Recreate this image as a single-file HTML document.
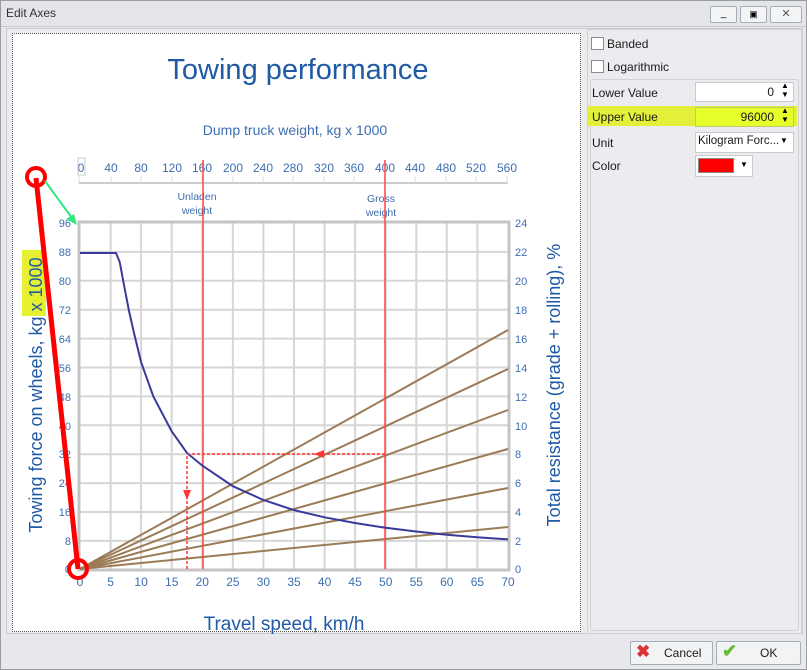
<!DOCTYPE html>
<html><head><style>
body{margin:0;width:807px;height:670px;background:#e6e8ec;font-family:"Liberation Sans",sans-serif;position:relative;overflow:hidden}
.a{position:absolute}
.t{font-size:12px;color:#1a1a1a}
</style></head><body>
<div class="a" style="left:0;top:0;width:807px;height:26px;background:#e3e5ea;border-bottom:1px solid #c8cad0"></div>
<div class="a t" style="left:6px;top:6px;font-size:12px;color:#333">Edit Axes</div>
<div class="a" style="left:710px;top:6px;width:25px;height:15px;border:1px solid #a9acb3;border-radius:2px;background:#f3f4f6;font-size:10px;text-align:center;line-height:13px">_</div>
<div class="a" style="left:740px;top:6px;width:25px;height:15px;border:1px solid #a9acb3;border-radius:2px;background:#f3f4f6;font-size:9px;text-align:center;line-height:15px">▣</div>
<div class="a" style="left:770px;top:6px;width:30px;height:15px;border:1px solid #a9acb3;border-radius:2px;background:#f3f4f6;font-size:11px;text-align:center;line-height:15px;color:#555">✕</div>
<div class="a" style="left:0;top:0;width:805px;height:668px;border:1px solid #9a9ca2"></div>
<div class="a" style="left:6px;top:28px;width:795px;height:604px;border:1px solid #c9cbd0;background:#ececef"></div>
<div class="a" style="left:12px;top:33px;width:567px;height:597px;background:#fff;border:1px dotted #555"></div>
<div class="a" style="left:587px;top:29px;width:213px;height:603px;border:1px solid #cfd1d6;background:#ebecef"></div>
<div class="a" style="left:591px;top:37px;width:11px;height:11px;border:1px solid #8a8c90;background:#fff"></div>
<div class="a t" style="left:607px;top:37px">Banded</div>
<div class="a" style="left:591px;top:60px;width:11px;height:11px;border:1px solid #8a8c90;background:#fff"></div>
<div class="a t" style="left:607px;top:60px">Logarithmic</div>
<div class="a" style="left:590px;top:79px;width:207px;height:550px;border:1px solid #d0d2d6;border-radius:3px"></div>
<div class="a" style="left:587px;top:106px;width:210px;height:20px;background:#e4ef3a"></div>
<div class="a t" style="left:592px;top:86px">Lower Value</div>
<div class="a" style="left:695px;top:82px;width:97px;height:18px;border:1px solid #c8cacd;background:#fff"></div>
<div class="a t" style="left:734px;top:85px;width:40px;text-align:right">0</div>
<div class="a" style="left:781px;top:81px;font-size:8px;line-height:9px">▲<br>▼</div>
<div class="a t" style="left:592px;top:110px">Upper Value</div>
<div class="a" style="left:695px;top:107px;width:97px;height:18px;border:1px solid #c0c870;background:#e6ff2a"></div>
<div class="a t" style="left:714px;top:110px;width:60px;text-align:right">96000</div>
<div class="a" style="left:781px;top:106px;font-size:8px;line-height:9px">▲<br>▼</div>
<div class="a t" style="left:592px;top:136px">Unit</div>
<div class="a" style="left:695px;top:132px;width:97px;height:19px;border:1px solid #c8cacd;background:#fff"></div>
<div class="a t" style="left:698px;top:135px;font-size:11.5px">Kilogram Forc...</div>
<div class="a" style="left:780px;top:136px;font-size:8px">▼</div>
<div class="a t" style="left:592px;top:159px">Color</div>
<div class="a" style="left:695px;top:155px;width:56px;height:20px;border:1px solid #c8cacd;background:#fff"></div>
<div class="a" style="left:698px;top:158px;width:34px;height:13px;border:1px solid #888;background:#f00"></div>
<div class="a" style="left:740px;top:160px;font-size:8px">▼</div>
<div class="a" style="left:630px;top:641px;width:81px;height:22px;border:1px solid #a9acb3;border-radius:2px;background:#f2f3f5"></div>
<div class="a" style="left:636px;top:642px;color:#d33;font-size:17px;font-weight:bold">✖</div>
<div class="a t" style="left:664px;top:646px">Cancel</div>
<div class="a" style="left:716px;top:641px;width:83px;height:22px;border:1px solid #a9acb3;border-radius:2px;background:#f2f3f5"></div>
<div class="a" style="left:722px;top:641px;color:#6b3;font-size:18px;font-weight:bold">✔</div>
<div class="a t" style="left:760px;top:646px">OK</div>
<svg class="a" style="left:0;top:0" width="807" height="670" font-family="Liberation Sans, sans-serif">
<text x="298" y="79" text-anchor="middle" font-size="29" fill="#1e5aa5">Towing performance</text>
<text x="295" y="135" text-anchor="middle" font-size="14" fill="#3d6eb0">Dump truck weight, kg x 1000</text>
<g font-size="12" fill="#3d6eb0" text-anchor="middle">
<text x="81" y="172">0</text><text x="111" y="172">40</text><text x="141" y="172">80</text><text x="172" y="172">120</text><text x="202" y="172">160</text><text x="233" y="172">200</text><text x="263" y="172">240</text><text x="293" y="172">280</text><text x="324" y="172">320</text><text x="354" y="172">360</text><text x="385" y="172">400</text><text x="415" y="172">440</text><text x="446" y="172">480</text><text x="476" y="172">520</text><text x="507" y="172">560</text>
</g>
<rect x="78" y="158" width="7" height="17" fill="none" stroke="#ccc"/>
<line x1="79" y1="183" x2="508" y2="183" stroke="#ccc" stroke-width="2"/>
<g stroke="#ddd"><path d="M79 176v7M111 176v7M141 176v7M172 176v7M202 176v7M233 176v7M263 176v7M293 176v7M324 176v7M354 176v7M385 176v7M415 176v7M446 176v7M476 176v7M507 176v7"/></g>
<text x="197" y="200" text-anchor="middle" font-size="10.5" fill="#3d6eb0">Unladen</text>
<text x="197" y="214" text-anchor="middle" font-size="10.5" fill="#3d6eb0">weight</text>
<text x="381" y="202" text-anchor="middle" font-size="10.5" fill="#3d6eb0">Gross</text>
<text x="381" y="216" text-anchor="middle" font-size="10.5" fill="#3d6eb0">weight</text>
<g stroke="#d6d6d6" stroke-width="2">
<path d="M110.6 223V569M141.1 223V569M171.7 223V569M202.3 223V569M232.9 223V569M263.4 223V569M294 223V569M324.6 223V569M355.1 223V569M385.7 223V569M416.3 223V569M446.8 223V569M477.4 223V569"/>
<path d="M80 251.9H508M80 280.8H508M80 309.7H508M80 338.6H508M80 367.5H508M80 396.4H508M80 425.3H508M80 454.2H508M80 483.1H508M80 512H508M80 540.9H508"/>
</g>
<rect x="79" y="222" width="430" height="348" fill="none" stroke="#c4c4c4" stroke-width="3"/>
<g font-size="11" fill="#3d6eb0" text-anchor="end">
<text x="71" y="227">96</text><text x="71" y="256">88</text><text x="71" y="285">80</text><text x="71" y="314">72</text><text x="71" y="343">64</text><text x="71" y="372">56</text><text x="71" y="401">48</text><text x="71" y="430">40</text><text x="71" y="458">32</text><text x="71" y="487">24</text><text x="71" y="516">16</text><text x="71" y="545">8</text><text x="71" y="573">0</text>
</g>
<g font-size="11" fill="#3d6eb0">
<text x="515" y="227">24</text><text x="515" y="256">22</text><text x="515" y="285">20</text><text x="515" y="314">18</text><text x="515" y="343">16</text><text x="515" y="372">14</text><text x="515" y="401">12</text><text x="515" y="430">10</text><text x="515" y="458">8</text><text x="515" y="487">6</text><text x="515" y="516">4</text><text x="515" y="545">2</text><text x="515" y="573">0</text>
</g>
<g font-size="12" fill="#3d6eb0" text-anchor="middle">
<text x="80" y="586">0</text><text x="110.6" y="586">5</text><text x="141.1" y="586">10</text><text x="171.7" y="586">15</text><text x="202.3" y="586">20</text><text x="232.9" y="586">25</text><text x="263.4" y="586">30</text><text x="294" y="586">35</text><text x="324.6" y="586">40</text><text x="355.1" y="586">45</text><text x="385.7" y="586">50</text><text x="416.3" y="586">55</text><text x="446.8" y="586">60</text><text x="477.4" y="586">65</text><text x="508" y="586">70</text>
</g>
<text x="284" y="630" text-anchor="middle" font-size="19" fill="#1e5aa5">Travel speed, km/h</text>
<rect x="22" y="250" width="24" height="66" fill="#e4f030"/>
<text transform="translate(42,395) rotate(-90)" text-anchor="middle" font-size="18" fill="#1e5aa5">Towing force on wheels, kg x 1000</text>
<text transform="translate(560,385) rotate(-90)" text-anchor="middle" font-size="18" fill="#1e5aa5">Total resistance (grade + rolling), %</text>
<g stroke="#9b7b55" stroke-width="2">
<line x1="80" y1="569" x2="508" y2="330"/><line x1="80" y1="569" x2="508" y2="369"/><line x1="80" y1="569" x2="508" y2="410"/><line x1="80" y1="569" x2="508" y2="449"/><line x1="80" y1="569" x2="508" y2="488"/><line x1="80" y1="569" x2="508" y2="527"/>
</g>
<path d="M203 160V569M385 160V569" stroke="#f44" stroke-width="1.5"/>
<polyline fill="none" stroke="#3a3a9a" stroke-width="2" points="80,253 116,253 119.7,262 124,285 128.9,310.5 134,333 141.1,362.2 153.4,396.6 171.7,431.3 187,453 202.3,465.6 232.9,486.2 263.4,500 294,510.1 324.6,517.3 355,523 385.7,527.8 416,531.5 446.8,534.7 477,537.3 508,539.4"/>
<path d="M385 454H187V569" fill="none" stroke="#f33" stroke-width="1.5" stroke-dasharray="3,2"/>
<path d="M314 454l10-4v8zM187 500l-4-10h8z" fill="#f33"/>
<line x1="36" y1="178" x2="78" y2="569" stroke="#f00" stroke-width="5"/>
<circle cx="36" cy="177" r="9" fill="none" stroke="#f00" stroke-width="4"/>
<circle cx="78" cy="569" r="9" fill="none" stroke="#f00" stroke-width="4"/>
<line x1="45" y1="181" x2="72" y2="218" stroke="#2ee880" stroke-width="2"/>
<path d="M77 225l-11-6 8-5z" fill="#2ee880"/>
</svg>
</body></html>
